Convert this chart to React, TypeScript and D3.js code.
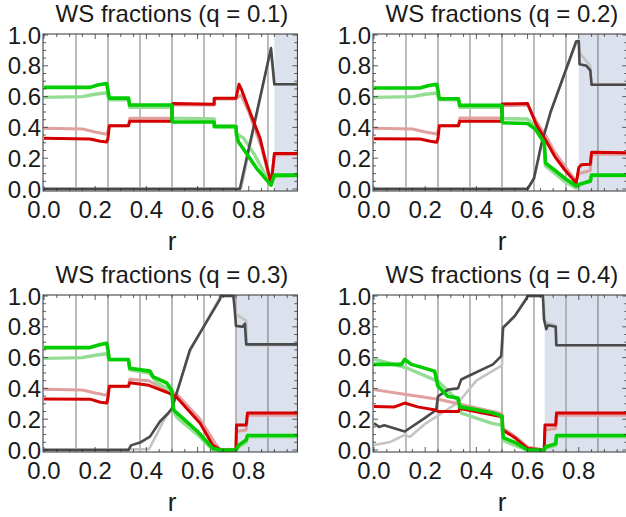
import React from "react";
import * as d3 from "d3";

type Pt = [number, number];

const titles = ["WS fractions (q = 0.1)", "WS fractions (q = 0.2)", "WS fractions (q = 0.3)", "WS fractions (q = 0.4)"];
const shadeStarts = [0.9, 0.8, 0.75, 0.667];
const xTicks = [0, 0.2, 0.4, 0.6, 0.8];
const yTicks = [0, 0.2, 0.4, 0.6, 0.8, 1.0];
const gridLines = [0.125, 0.25, 0.375, 0.5, 0.625, 0.75, 0.875];

// q = 0.1
const q1GreenDark: Pt[] = [[0,0.66],[0.18,0.66],[0.21,0.675],[0.245,0.685],[0.25,0.64],[0.255,0.59],[0.33,0.59],[0.335,0.545],[0.5,0.545],[0.5,0.44],[0.505,0.435],[0.665,0.435],[0.665,0.405],[0.75,0.405],[0.752,0.35],[0.76,0.305],[0.79,0.234],[0.83,0.136],[0.887,0.025],[0.9,0.09],[0.99,0.09]];
const q1GreenLight: Pt[] = [[0,0.595],[0.15,0.6],[0.2,0.615],[0.245,0.625],[0.25,0.6],[0.255,0.58],[0.33,0.58],[0.335,0.53],[0.5,0.53],[0.5,0.47],[0.505,0.46],[0.665,0.455],[0.665,0.41],[0.75,0.41],[0.752,0.36],[0.78,0.33],[0.82,0.23],[0.885,0.03],[0.9,0.08],[0.99,0.085]];
const q1RedDark: Pt[] = [[0,0.33],[0.18,0.325],[0.22,0.31],[0.245,0.305],[0.25,0.33],[0.255,0.41],[0.33,0.41],[0.335,0.44],[0.5,0.44],[0.5,0.55],[0.505,0.555],[0.665,0.55],[0.665,0.59],[0.75,0.59],[0.762,0.68],[0.772,0.645],[0.811,0.472],[0.844,0.331],[0.888,0.03],[0.9,0.23],[0.99,0.23]];
const q1RedLight: Pt[] = [[0,0.395],[0.15,0.39],[0.2,0.37],[0.245,0.355],[0.25,0.38],[0.255,0.41],[0.33,0.41],[0.335,0.46],[0.5,0.46],[0.5,0.54],[0.505,0.545],[0.665,0.545],[0.665,0.585],[0.75,0.585],[0.76,0.6],[0.77,0.61],[0.8,0.5],[0.85,0.27],[0.885,0.04],[0.9,0.22],[0.99,0.225]];
const q1GrayDark: Pt[] = [[0,0],[0.765,0],[0.887,0.915],[0.9,0.68],[0.99,0.68]];
const q1GrayLight: Pt[] = [[0,0.005],[0.77,0.005],[0.885,0.9],[0.9,0.68],[0.99,0.68]];

// q = 0.2
const q2GreenDark: Pt[] = [[0,0.656],[0.18,0.656],[0.21,0.67],[0.245,0.68],[0.25,0.64],[0.255,0.586],[0.33,0.586],[0.335,0.543],[0.5,0.543],[0.5,0.44],[0.505,0.43],[0.6,0.425],[0.63,0.39],[0.665,0.3],[0.67,0.17],[0.7,0.13],[0.745,0.07],[0.79,0.02],[0.8,0.03],[0.845,0.05],[0.85,0.09],[0.99,0.09]];
const q2GreenLight: Pt[] = [[0,0.595],[0.15,0.6],[0.2,0.615],[0.245,0.623],[0.25,0.6],[0.255,0.58],[0.33,0.58],[0.335,0.53],[0.5,0.53],[0.5,0.47],[0.505,0.457],[0.6,0.455],[0.63,0.41],[0.665,0.32],[0.67,0.15],[0.7,0.11],[0.745,0.05],[0.79,0.005],[0.8,0.02],[0.845,0.06],[0.85,0.085],[0.99,0.085]];
const q2RedDark: Pt[] = [[0,0.327],[0.18,0.325],[0.22,0.31],[0.245,0.303],[0.25,0.33],[0.255,0.41],[0.33,0.41],[0.335,0.44],[0.5,0.44],[0.5,0.552],[0.6,0.555],[0.634,0.418],[0.673,0.31],[0.706,0.212],[0.745,0.125],[0.79,0.039],[0.8,0.14],[0.81,0.158],[0.845,0.16],[0.85,0.238],[0.99,0.235]];
const q2RedLight: Pt[] = [[0,0.395],[0.15,0.39],[0.2,0.37],[0.245,0.357],[0.25,0.38],[0.255,0.41],[0.33,0.41],[0.335,0.461],[0.5,0.461],[0.5,0.54],[0.6,0.545],[0.634,0.44],[0.673,0.34],[0.706,0.24],[0.745,0.15],[0.79,0.05],[0.8,0.1],[0.845,0.12],[0.85,0.225],[0.99,0.225]];
const q2GrayDark: Pt[] = [[0,0],[0.6,0],[0.625,0.07],[0.655,0.3],[0.69,0.5],[0.79,0.959],[0.8,0.96],[0.803,0.81],[0.83,0.8],[0.845,0.77],[0.85,0.677],[0.99,0.677]];
const q2GrayLight: Pt[] = [[0,0.005],[0.6,0.005],[0.625,0.06],[0.655,0.29],[0.69,0.5],[0.79,0.95],[0.8,0.95],[0.805,0.88],[0.845,0.8],[0.85,0.68],[0.99,0.68]];

// q = 0.3
const q3GreenDark: Pt[] = [[0,0.665],[0.18,0.665],[0.22,0.685],[0.245,0.693],[0.25,0.65],[0.255,0.588],[0.33,0.588],[0.335,0.531],[0.414,0.512],[0.427,0.475],[0.479,0.436],[0.499,0.39],[0.505,0.26],[0.52,0.24],[0.6,0.12],[0.66,0.01],[0.69,0],[0.75,0],[0.76,0.03],[0.79,0.065],[0.795,0.094],[0.99,0.094]];
const q3GreenLight: Pt[] = [[0,0.595],[0.15,0.6],[0.2,0.615],[0.245,0.625],[0.25,0.6],[0.255,0.585],[0.33,0.585],[0.335,0.52],[0.41,0.5],[0.44,0.44],[0.48,0.4],[0.5,0.36],[0.51,0.24],[0.52,0.21],[0.6,0.1],[0.66,0.0],[0.75,0],[0.76,0.02],[0.79,0.05],[0.795,0.085],[0.99,0.085]];
const q3RedDark: Pt[] = [[0,0.331],[0.18,0.33],[0.22,0.31],[0.245,0.305],[0.25,0.34],[0.255,0.414],[0.33,0.414],[0.335,0.436],[0.41,0.42],[0.44,0.4],[0.48,0.375],[0.5,0.36],[0.52,0.34],[0.61,0.174],[0.66,0.03],[0.69,0],[0.75,0],[0.752,0.163],[0.79,0.163],[0.795,0.24],[0.99,0.24]];
const q3RedLight: Pt[] = [[0,0.395],[0.15,0.39],[0.2,0.37],[0.245,0.355],[0.25,0.38],[0.255,0.41],[0.33,0.41],[0.335,0.46],[0.41,0.45],[0.44,0.42],[0.48,0.39],[0.5,0.38],[0.52,0.36],[0.61,0.2],[0.67,0.04],[0.69,0.0],[0.75,0],[0.752,0.12],[0.79,0.13],[0.795,0.225],[0.99,0.225]];
const q3GrayDark: Pt[] = [[0,0],[0.33,0],[0.34,0.03],[0.375,0.048],[0.414,0.087],[0.453,0.185],[0.486,0.24],[0.5,0.27],[0.57,0.65],[0.688,0.98],[0.69,1.0],[0.74,1.0],[0.745,0.915],[0.75,0.806],[0.775,0.8],[0.785,0.82],[0.79,0.686],[0.99,0.686]];
const q3GrayLight: Pt[] = [[0,0.005],[0.41,0.005],[0.44,0.1],[0.47,0.2],[0.5,0.27],[0.57,0.64],[0.69,1.0],[0.74,1.0],[0.75,0.88],[0.79,0.84],[0.792,0.68],[0.99,0.68]];

// q = 0.4
const q4GreenDark: Pt[] = [[0,0.556],[0.107,0.556],[0.12,0.588],[0.146,0.556],[0.2,0.53],[0.237,0.512],[0.25,0.414],[0.289,0.348],[0.328,0.338],[0.335,0.28],[0.367,0.272],[0.465,0.24],[0.5,0.22],[0.503,0.12],[0.505,0.08],[0.55,0.05],[0.6,0.0],[0.665,0],[0.67,0.02],[0.71,0.04],[0.713,0.094],[0.99,0.094]];
const q4GreenLight: Pt[] = [[0,0.59],[0.126,0.534],[0.25,0.446],[0.328,0.32],[0.341,0.24],[0.458,0.174],[0.5,0.16],[0.505,0.06],[0.55,0.03],[0.6,0],[0.665,0],[0.67,0.01],[0.71,0.03],[0.713,0.085],[0.99,0.085]];
const q4RedDark: Pt[] = [[0,0.283],[0.08,0.28],[0.12,0.305],[0.17,0.28],[0.24,0.26],[0.25,0.25],[0.33,0.25],[0.335,0.27],[0.5,0.216],[0.503,0.13],[0.55,0.08],[0.6,0.01],[0.665,0],[0.668,0.163],[0.71,0.163],[0.713,0.24],[0.99,0.24]];
const q4RedLight: Pt[] = [[0,0.392],[0.125,0.36],[0.25,0.33],[0.33,0.3],[0.5,0.235],[0.505,0.14],[0.55,0.09],[0.6,0.02],[0.665,0],[0.668,0.13],[0.71,0.14],[0.713,0.225],[0.99,0.225]];
const q4GrayDark: Pt[] = [[0,0.174],[0.02,0.15],[0.04,0.16],[0.12,0.12],[0.198,0.207],[0.243,0.26],[0.25,0.348],[0.289,0.392],[0.328,0.4],[0.341,0.458],[0.367,0.479],[0.465,0.556],[0.497,0.61],[0.504,0.795],[0.55,0.87],[0.595,0.98],[0.6,1.0],[0.66,1.0],[0.664,0.85],[0.673,0.784],[0.68,0.81],[0.71,0.8],[0.712,0.68],[0.99,0.68]];
const q4GrayLight: Pt[] = [[0,0.033],[0.06,0.05],[0.12,0.098],[0.14,0.085],[0.2,0.17],[0.33,0.31],[0.4,0.45],[0.5,0.55],[0.505,0.79],[0.55,0.87],[0.6,1.0],[0.66,1.0],[0.668,0.83],[0.71,0.81],[0.713,0.68],[0.99,0.68]];

const seriesColors = {
  greenLight: "#95dc95",
  redLight: "#e0a0a0",
  grayLight: "#c4c4c4",
  green: "#00cc00",
  red: "#d40000",
  gray: "#4a4a4a",
};

const panelsData = [
  { greenDark: q1GreenDark, greenLight: q1GreenLight, redDark: q1RedDark, redLight: q1RedLight, grayDark: q1GrayDark, grayLight: q1GrayLight },
  { greenDark: q2GreenDark, greenLight: q2GreenLight, redDark: q2RedDark, redLight: q2RedLight, grayDark: q2GrayDark, grayLight: q2GrayLight },
  { greenDark: q3GreenDark, greenLight: q3GreenLight, redDark: q3RedDark, redLight: q3RedLight, grayDark: q3GrayDark, grayLight: q3GrayLight },
  { greenDark: q4GreenDark, greenLight: q4GreenLight, redDark: q4RedDark, redLight: q4RedLight, grayDark: q4GrayDark, grayLight: q4GrayLight },
];

const FONT = "'Liberation Sans', Arial, sans-serif";

function Panel({ idx, x0, y0 }: { idx: number; x0: number; y0: number }) {
  const d = panelsData[idx];
  const x = d3.scaleLinear().domain([0, 0.99]).range([x0, x0 + 253.4]);
  const y = d3.scaleLinear().domain([0, 1]).range([y0 + 154, y0]);
  const line = d3.line<Pt>().x((p) => x(p[0])).y((p) => y(p[1]));
  const top = y(1) - 1;
  const bottom = y(0) + 2;
  const left = x(0) - 1;
  const right = x(0.99);
  const clipId = `clip${idx}`;
  const minorX = d3.range(0, 0.99, 0.05);
  const minorY = d3.range(0, 1.0001, 0.05);
  const series: { data: Pt[]; color: string; w: number }[] = [
    { data: d.grayLight, color: seriesColors.grayLight, w: 2.6 },
    { data: d.redLight, color: seriesColors.redLight, w: 3 },
    { data: d.greenLight, color: seriesColors.greenLight, w: 3.4 },
    { data: d.grayDark, color: seriesColors.gray, w: 2.6 },
    { data: d.redDark, color: seriesColors.red, w: 3 },
    { data: d.greenDark, color: seriesColors.green, w: 3.6 },
  ];
  const cx = (x(0) + x(1)) / 2;
  return (
    <g>
      <defs>
        <clipPath id={clipId}>
          <rect x={left} y={top - 3} width={right - left} height={bottom - top + 6} />
        </clipPath>
      </defs>
      <rect x={x(shadeStarts[idx])} y={top} width={right - x(shadeStarts[idx])} height={bottom - top} fill="#dbe1ed" />
      {gridLines.map((g, i) => (
        <line key={i} x1={x(g)} x2={x(g)} y1={top} y2={bottom}
          stroke={i % 2 === 1 ? "#a8a8a8" : "#555"} strokeWidth={i % 2 === 1 ? 1.6 : 0.8} />
      ))}
      <g clipPath={`url(#${clipId})`}>
        {series.map((s, i) => (
          <path key={i} d={line(s.data) || ""} fill="none" stroke={s.color} strokeWidth={s.w} strokeLinejoin="round" />
        ))}
      </g>
      <rect x={left} y={top} width={right - left} height={bottom - top} fill="none" stroke="#333" strokeWidth={1} />
      {minorX.map((t, i) => {
        const major = Math.abs(t * 5 - Math.round(t * 5)) < 1e-6;
        const len = major ? 5 : 3;
        return (
          <g key={"tx" + i}>
            <line x1={x(t)} x2={x(t)} y1={bottom} y2={bottom - len} stroke="#333" strokeWidth={0.8} />
            <line x1={x(t)} x2={x(t)} y1={top} y2={top + len} stroke="#333" strokeWidth={0.8} />
          </g>
        );
      })}
      {minorY.map((t, i) => {
        const major = Math.abs(t * 5 - Math.round(t * 5)) < 1e-6;
        const len = major ? 5 : 3;
        return (
          <g key={"ty" + i}>
            <line x1={left} x2={left + len} y1={y(t)} y2={y(t)} stroke="#333" strokeWidth={0.8} />
            <line x1={right} x2={right - len} y1={y(t)} y2={y(t)} stroke="#333" strokeWidth={0.8} />
          </g>
        );
      })}
      {xTicks.map((t) => (
        <text key={"xl" + t} x={x(t)} y={bottom + 27} textAnchor="middle" fontSize={24} fontFamily={FONT} fill="#1a1a1a">
          {t.toFixed(1)}
        </text>
      ))}
      {yTicks.map((t) => (
        <text key={"yl" + t} x={left - 2} y={y(t) + 8.5} textAnchor="end" fontSize={24} fontFamily={FONT} fill="#1a1a1a">
          {t.toFixed(1)}
        </text>
      ))}
      <text x={cx} y={y0 - 13} textAnchor="middle" fontSize={24} fontFamily={FONT} fill="#1a1a1a">
        {titles[idx]}
      </text>
      <text x={cx} y={y0 + 215} textAnchor="middle" fontSize={26} fontFamily={FONT} fill="#1a1a1a">
        r
      </text>
    </g>
  );
}

export default function App() {
  return (
    <svg width={626} height={517} style={{ position: "absolute", left: 0, top: 0, background: "#fff" }}>
      <rect width={626} height={517} fill="#fff" />
      <Panel idx={0} x0={44} y0={35} />
      <Panel idx={1} x0={374} y0={35} />
      <Panel idx={2} x0={44} y0={296} />
      <Panel idx={3} x0={374} y0={296} />
    </svg>
  );
}
